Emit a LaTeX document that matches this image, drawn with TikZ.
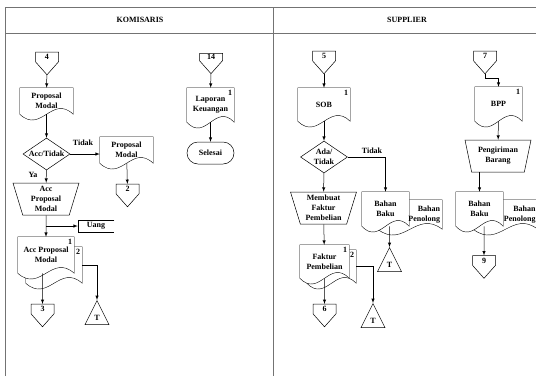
\documentclass[tikz,border=0pt]{standalone}
\usepackage{fontspec}
\setmainfont{Liberation Serif}
\usepackage{tikz}
\usetikzlibrary{shapes,shapes.geometric,shapes.symbols,arrows,calc,backgrounds}
\newcommand{\lbl}{\fontsize{8}{10}\selectfont\bfseries}
\tikzstyle{lane}=[draw=black!55,line width=0.6pt]
\tikzstyle{txt}=[font=\lbl,inner sep=1pt]
\tikzstyle{num}=[font=\lbl,inner sep=2pt,anchor=north east]
\tikzstyle{docu}=[font=\lbl,inner sep=1pt,align=center]
\tikzstyle{offpage}=[signal,signal to=south,signal from=nowhere,draw,fill=white,font=\lbl,inner sep=1pt,minimum width=23pt,minimum height=13pt,signal pointer angle=83]
\tikzstyle{manop}=[trapezium,shape border rotate=180,trapezium stretches body,trapezium angle=69,draw,fill=white,font=\lbl,align=center,inner sep=0pt,minimum width=66pt,minimum height=32pt]
\tikzstyle{decision}=[diamond,aspect=1.5,draw,fill=white,font=\lbl,align=center,inner sep=0pt,minimum width=47pt,minimum height=32pt]
\tikzstyle{term}=[rectangle,rounded corners=11pt,draw,fill=white,font=\lbl,minimum width=47pt,minimum height=22pt]
\tikzstyle{tri}=[isosceles triangle,isosceles triangle stretches,shape border rotate=90,draw,fill=white,font=\lbl,inner sep=1pt,minimum width=24pt,minimum height=24pt]
\newcommand{\docshape}[1]{%
  \draw[fill=white] (#1.south west) -- (#1.north west) -- (#1.north east) -- (#1.south east)
    .. controls ($(#1.south east)!.4!(#1.south west)+(0,-20)$) and ($(#1.south west)!.4!(#1.south east)+(0,20)$) .. (#1.south west) -- cycle;}
\newcommand{\openbox}[1]{%
  \draw (#1.north east) -- (#1.north west) -- (#1.south west) -- (#1.south east);}

\begin{document}
\begin{tikzpicture}[x=1pt,y=-1pt,>=latex,line width=0.5pt]
\useasboundingbox (0,0) rectangle (536,376);

% lanes
\draw[lane] (5,376) -- (5,7) -- (536,7);
\draw[lane] (5,33) -- (536,33);
\draw[lane] (273,7) -- (273,376);
\node[txt] (kom) at (140,20) {KOMISARIS};
\node[txt] (sup) at (407,20) {SUPPLIER};

% komisaris
\node[offpage] (off4) at (47,57) {4};
\node[docu,minimum width=53pt,minimum height=26pt] (pm1) at (46.5,101) {Proposal\\Modal};
\node[decision] (acct) at (46.5,154) {Acc/Tidak};
\node[docu,minimum width=53pt,minimum height=26pt] (pm2) at (126.5,150) {Proposal\\Modal};
\node[offpage] (off2) at (127.5,189) {2};
\node[manop] (accpm) at (46,199) {Acc\\Proposal\\Modal};
\node[txt,minimum width=36pt,minimum height=12pt,inner sep=0pt] (uang) at (96,226) {Uang};
\node[docu,minimum width=56pt,minimum height=36pt] (acc2) at (54,265) {};
\node[docu,minimum width=56pt,minimum height=36pt] (acc1) at (46,255) {Acc Proposal\\Modal};
\node[num] (n1a) at (acc1.north east) {1};
\node[num] (n2a) at (acc2.north east) {2};
\node[offpage] (off3) at (42.5,309) {3};
\node[tri,anchor=apex] (t1) at (97,300) {T};
\node[txt] (tidak1) at (83,143) {Tidak};
\node[txt] (ya) at (33,175) {Ya};

\node[offpage] (off14) at (211,57) {14};
\node[docu,minimum width=47pt,minimum height=34pt] (lk) at (210.5,105) {Laporan\\Keuangan};
\node[num] (n1l) at (lk.north east) {1};
\node[term] (sel) at (210.5,153) {Selesai};

% supplier
\node[offpage] (off5) at (324,56) {5};
\node[docu,minimum width=52pt,minimum height=33pt] (sob) at (324,104.5) {SOB};
\node[num] (n1s) at (sob.north east) {1};
\node[decision] (adat) at (324,157) {Ada/\\Tidak};
\node[txt] (tidak2) at (372,151) {Tidak};
\node[manop] (mfp) at (323.5,208) {Membuat\\Faktur\\Pembelian};
\node[docu,minimum width=64pt,minimum height=29pt,text width=60pt,align=right] (bp1) at (410,214.5) {Bahan\\Penolong};
\node[docu,minimum width=47pt,minimum height=34pt] (bb1) at (385.5,209) {Bahan\\Baku};
\node[tri,anchor=apex] (t2) at (389.5,247) {T};
\node[docu,minimum width=49pt,minimum height=33pt] (fp2) at (331.5,266.5) {};
\node[docu,minimum width=49pt,minimum height=33pt] (fp1) at (324.5,261.5) {Faktur\\Pembelian};
\node[num] (n1f) at (fp1.north east) {1};
\node[num] (n2f) at (fp2.north east) {2};
\node[offpage] (off6) at (324.5,309) {6};
\node[tri,anchor=apex] (t3) at (373,303) {T};

\node[offpage] (off7) at (485,56) {7};
\node[docu,minimum width=47pt,minimum height=34pt] (bpp) at (498.5,104) {BPP};
\node[num] (n1b) at (bpp.north east) {1};
\node[manop] (peng) at (498,156) {Pengiriman\\Barang};
\node[docu,minimum width=64pt,minimum height=29pt,text width=60pt,align=right] (bp2) at (505.5,214.5) {Bahan\\Penolong};
\node[docu,minimum width=47pt,minimum height=34pt] (bb2) at (479.5,209) {Bahan\\Baku};
\node[offpage] (off9) at (484,260.5) {9};

\begin{scope}[on background layer]
\docshape{pm1} \docshape{pm2} \docshape{acc2} \docshape{acc1} \docshape{lk}
\docshape{sob} \docshape{bp1} \docshape{bb1} \docshape{fp2} \docshape{fp1}
\docshape{bpp} \docshape{bp2} \docshape{bb2}
\end{scope}
\openbox{uang}

% flows
\draw[->] (off4) -- (pm1);
\draw[->] (pm1) -- (acct);
\draw[->] (acct) -- (acct -| pm2.west);
\draw[->] (pm2) -- (off2);
\draw[->] (acct) -- (accpm);
\draw[->] (accpm) -- (acc1);
\draw[->] (accpm.south |- uang) -- (uang);
\draw[->] (acc1.south -| off3) -- (off3);
\draw[->] (acc2.east) -| (t1);
\draw[->] (off14) -- (lk);
\draw[->] (lk) -- (sel);

\draw[->] (off5) -- (sob);
\draw[->] (sob) -- (adat);
\draw[->] (adat) -- (mfp);
\draw[->] (adat.east) -| (bb1);
\draw[->] (bb1.south -| t2) -- (t2);
\draw[->] (mfp) -- (fp1);
\draw[->] (fp1) -- (off6);
\draw[->] (fp2.east) -| (t3);
\draw[->] (off7.south) -- ++(0,4) -| (bpp);
\draw[->] (bpp) -- (peng);
\draw[->] (peng.south -| bb2) -- (bb2);
\draw[->] (bb2.south -| off9) -- (off9);
\end{tikzpicture}
\end{document}
